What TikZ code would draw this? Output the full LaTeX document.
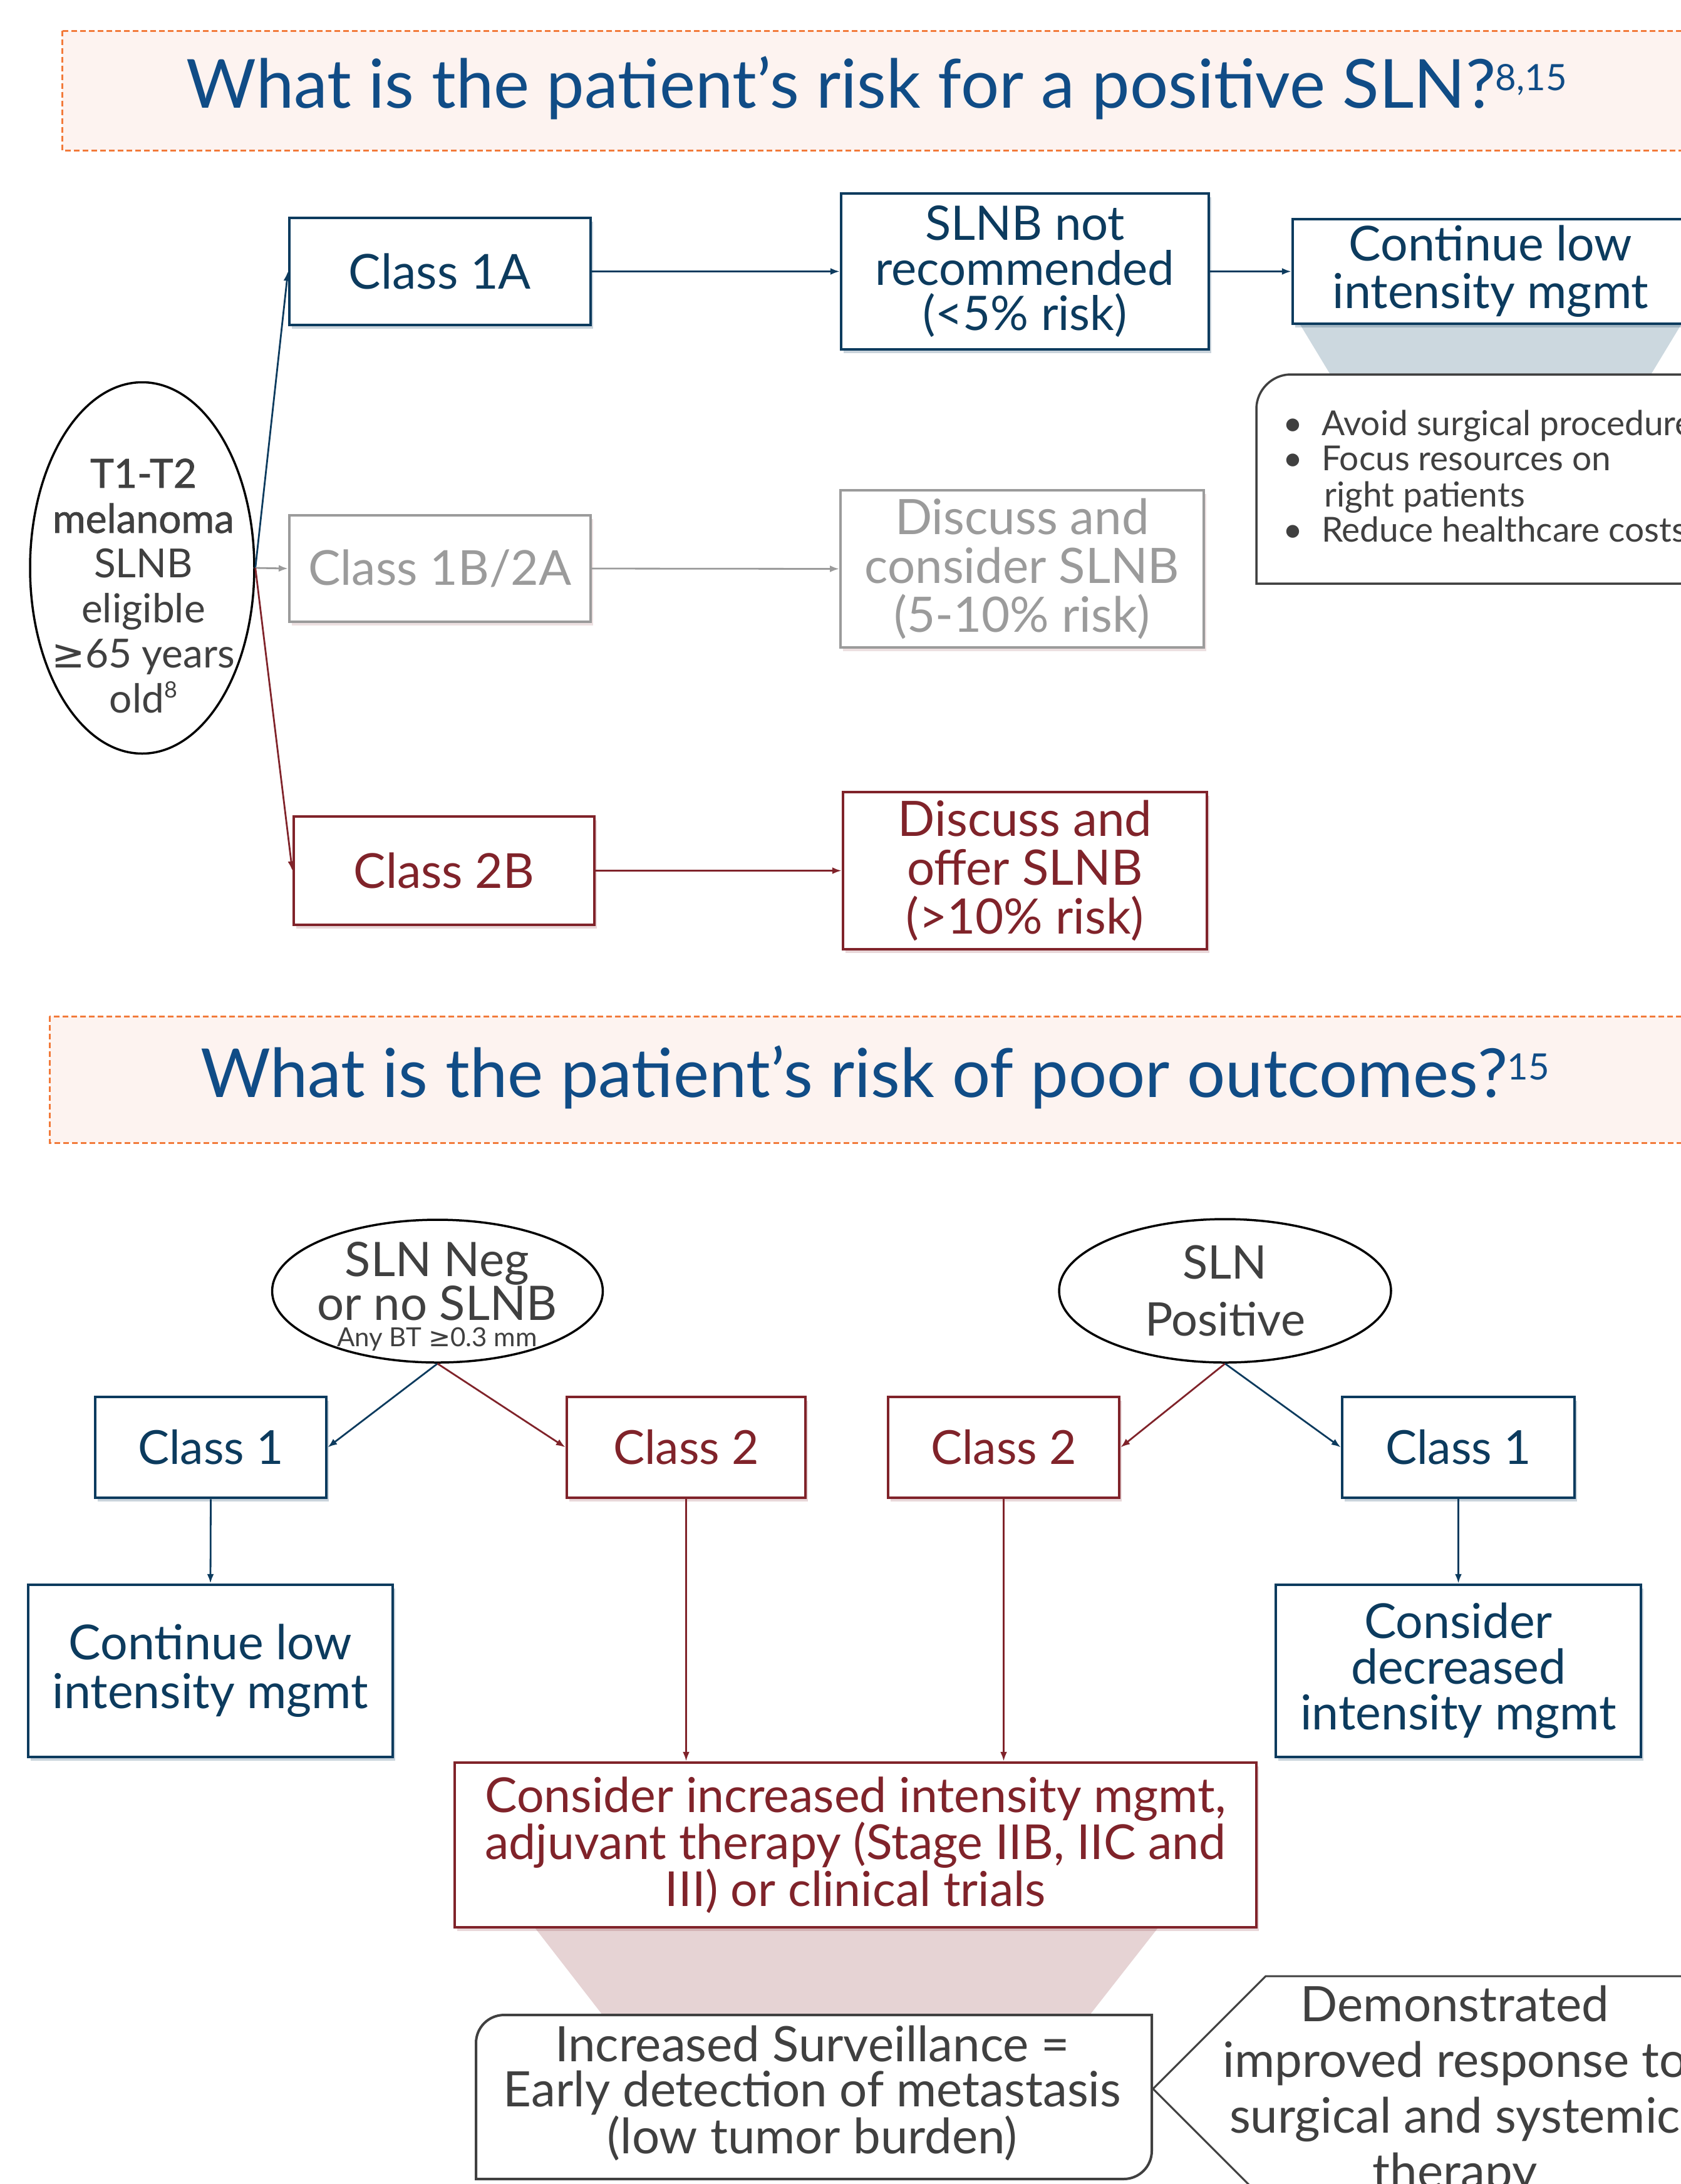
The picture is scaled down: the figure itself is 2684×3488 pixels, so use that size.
\documentclass[tikz,border=0pt]{standalone}
\usepackage{fontspec}
\setmainfont{Lato}
\newfontfamily\medfont{Lato}[FakeBold=1.2]
\newfontfamily\symfont{DejaVu Sans}
\usetikzlibrary{shapes.geometric,arrows.meta,shadows,calc}
\definecolor{navy}{HTML}{0C3B5E}
\definecolor{tblue}{HTML}{104C86}
\definecolor{dred}{HTML}{80232A}
\definecolor{lgray}{HTML}{9B9B9B}
\definecolor{dgray}{HTML}{404040}
\definecolor{orng}{HTML}{F27A3A}
\definecolor{pinkbg}{HTML}{FDF3F0}
\definecolor{trapblue}{HTML}{CCD8DF}
\definecolor{trappink}{HTML}{E6D3D4}
\newcommand\setfs[2]{\fontsize{#1pt}{#2pt}\selectfont}
\begin{document}
\begin{tikzpicture}[x=1pt,y=-1pt,
  box/.style={draw, rectangle, fill=white, line width=4.5pt, align=center, inner sep=0pt},
  navybox/.style={box, draw=navy, text=navy, drop shadow={shadow xshift=4pt, shadow yshift=-6pt, fill=navy, opacity=0.22}},
  redbox/.style={box, draw=dred, text=dred, drop shadow={shadow xshift=4pt, shadow yshift=-6pt, fill=dred, opacity=0.18}},
  graybox/.style={box, line width=4pt, draw=lgray, text=lgray, drop shadow={shadow xshift=4pt, shadow yshift=-6pt, fill=dred, opacity=0.14}},
  conn/.style={line width=2.8pt, -{Latex[length=15pt,width=11pt]}},
  titlebg/.style={draw=orng, fill=pinkbg, line width=3pt, dash pattern=on 9pt off 5pt},
  titletext/.style={anchor=base, text=tblue, font=\setfs{108}{116}},
  oval/.style={ellipse, draw=black, line width=3.5pt, fill=white, inner sep=0pt},
  dtext/.style={text=dgray, align=center, inner sep=0pt},
  callout/.style={draw=dgray, line width=4pt, fill=white}
]
\path[use as bounding box] (0,0) rectangle (2684,3488);
\clip (0,0) rectangle (2684,3488);

% ---------- Title 1 ----------
\path[titlebg] (99,49) rectangle (2720,240);
\node[titletext] (title1) at (1400,172) {What is the patient’s risk for a positive SLN?\raisebox{28pt}{\setfs{58}{58}8,15}};

% ---------- Top section ----------
\fill[trapblue] (2075,517) -- (2685,517) -- (2636,598) -- (2124,598) -- cycle;

\node[oval, minimum width=358pt, minimum height=593pt] (T) at (227,907) {};
\node[dtext, font=\setfs{64}{72}] (Ttext) at (229,936)
  {{\medfont T1-T2}\\{\medfont melanoma}\\SLNB\\eligible\\{\symfont ≥}65 years\\old\raisebox{24pt}{\setfs{36}{36}8}};

\node[navybox, minimum width=481pt, minimum height=171pt, font=\setfs{77}{80}] (c1A) at (702.5,433.5) {Class 1A};
\node[graybox, minimum width=481pt, minimum height=170pt, font=\setfs{77}{80}] (c1B) at (702.5,908) {Class 1B/2A};
\node[redbox, minimum width=480pt, minimum height=173pt, font=\setfs{77}{80}] (c2B) at (709,1390.5) {Class 2B};

\node[navybox, minimum width=587pt, minimum height=249pt, font=\setfs{76}{72}] (notrec) at (1636.5,433.5) {SLNB not\\recommended\\(<5\% risk)};
\node[graybox, minimum width=580pt, minimum height=251pt, font=\setfs{78}{78}] (consider) at (1632,908.5) {Discuss and\\consider SLNB\\(5-10\% risk)};
\node[redbox, minimum width=581pt, minimum height=251pt, font=\setfs{78}{78}] (offer) at (1636.5,1390.5) {Discuss and\\offer SLNB\\(>10\% risk)};

\node[navybox, minimum width=632pt, minimum height=167pt, font=\setfs{77}{76}] (contTop) at (2380,433.5) {Continue low\\intensity mgmt};

% bullet callout box (top-left corner rounded)
\draw[callout, line width=3.5pt] (2800,598) -- (2061,598) .. controls (2031,598) and (2006,623) .. (2006,653) -- (2006,932) -- (2800,932);
\node[anchor=base west, inner sep=0pt, text=dgray, font=\setfs{55}{58}] (b1) at (2048,695) {\makebox[62pt][l]{\textbullet}Avoid surgical procedures};
\node[anchor=base west, inner sep=0pt, text=dgray, font=\setfs{55}{58}] (b2) at (2048,751) {\makebox[62pt][l]{\textbullet}Focus resources on};
\node[anchor=base west, inner sep=0pt, text=dgray, font=\setfs{55}{58}] (b3) at (2048,809) {\makebox[66pt][l]{}right patients};
\node[anchor=base west, inner sep=0pt, text=dgray, font=\setfs{55}{58}] (b4) at (2048,865) {\makebox[62pt][l]{\textbullet}Reduce healthcare costs};

\draw[conn, navy] (T.east) -- (c1A.west);
\draw[conn, lgray] (T.east) -- (c1B.west);
\draw[conn, dred] (T.east) -- (c2B.west);
\draw[conn, navy] (c1A.east) -- (notrec.west);
\draw[conn, lgray] (c1B.east) -- (consider.west);
\draw[conn, dred] (c2B.east) -- (offer.west);
\draw[conn, navy] (notrec.east) -- (contTop.west);

% ---------- Title 2 ----------
\path[titlebg] (79,1623) rectangle (2720,1825);
\node[titletext] (title2) at (1397,1752) {What is the patient’s risk of poor outcomes?\raisebox{28pt}{\setfs{58}{58}15}};

% ---------- Bottom section ----------
\node[oval, minimum width=528pt, minimum height=228pt] (neg) at (698.5,2062) {};
\node[anchor=base, inner sep=0pt, text=dgray, font=\setfs{76}{76}] (neg1) at (698,2038) {SLN Neg};
\node[anchor=base, inner sep=0pt, text=dgray, font=\setfs{76}{76}] (neg2) at (698,2108) {or no SLNB};
\node[anchor=base, inner sep=0pt, text=dgray, font=\setfs{42}{42}] (neg3) at (698,2150) {Any BT {\symfont ≥}0.3 mm};

\node[oval, minimum width=530pt, minimum height=229pt, text=dgray, align=center, font=\setfs{74}{91}] (pos) at (1956,2061.5) {SLN\\Positive};

\node[navybox, minimum width=369pt, minimum height=161pt, font=\setfs{75}{80}] (c1L) at (336.5,2311.5) {Class 1};
\node[redbox, minimum width=381pt, minimum height=161pt, font=\setfs{75}{80}] (c2L) at (1095.5,2311.5) {Class 2};
\node[redbox, minimum width=369pt, minimum height=161pt, font=\setfs{75}{80}] (c2R) at (1602.5,2311.5) {Class 2};
\node[navybox, minimum width=371pt, minimum height=161pt, font=\setfs{75}{80}] (c1R) at (2328.5,2311.5) {Class 1};

\node[navybox, minimum width=582pt, minimum height=275pt, font=\setfs{77}{78}] (contL) at (336,2668.5) {Continue low\\intensity mgmt};
\node[navybox, minimum width=583pt, minimum height=275pt, font=\setfs{77}{73}] (decr) at (2328.5,2668.5) {Consider\\decreased\\intensity mgmt};

\fill[trappink] (855,3080) -- (1848,3080) -- (1740,3218) -- (962,3218) -- cycle;

\node[redbox, minimum width=1280pt, minimum height=263pt, font=\setfs{77}{72}] (inc) at (1366,2946.5) {Consider increased intensity mgmt,\\adjuvant therapy (Stage IIB, IIC and\\III) or clinical trials};

\draw[conn, navy] (neg.south) -- (c1L.east);
\draw[conn, dred] (neg.south) -- (c2L.west);
\draw[conn, dred] (pos.south) -- (c2R.east);
\draw[conn, navy] (pos.south) -- (c1R.west);
\draw[conn, navy] (c1L.south) -- (contL.north);
\draw[conn, navy] (c1R.south) -- (decr.north);
\draw[conn, dred] (c2L.south) -- (c2L.south |- inc.north);
\draw[conn, dred] (c2R.south) -- (c2R.south |- inc.north);

% surveillance box: top-left and bottom-right corners rounded
\draw[callout] (805,3218) -- (1839,3218) -- (1839,3435) .. controls (1839,3460) and (1819,3480) .. (1794,3480) -- (760,3480) -- (760,3263) .. controls (760,3238) and (780,3218) .. (805,3218) -- cycle;
\node[dtext, font=\setfs{78}{72}] (surv) at (1297,3343) {Increased Surveillance =\\Early detection of metastasis\\(low tumor burden)};

% demonstrated hexagon (partly off the page)
\draw[callout, line width=3pt] (2800,3156) -- (2021,3156) -- (1841,3336) -- (2021,3516) -- (2800,3516);
\node[dtext, font=\setfs{78}{89}] (demo) at (2323,3340) {Demonstrated\\improved response to\\surgical and systemic\\therapy};
\end{tikzpicture}
\end{document}
